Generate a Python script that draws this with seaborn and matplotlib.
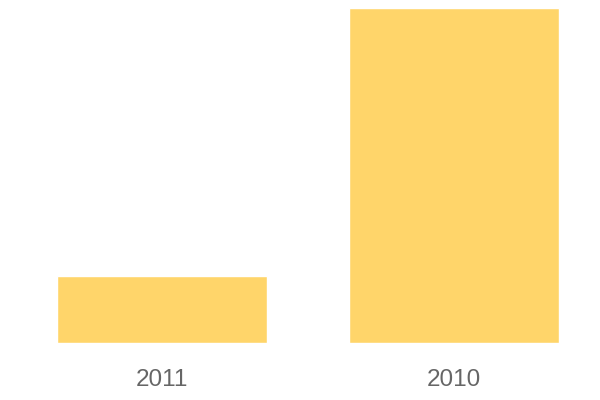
import matplotlib
matplotlib.use("Agg")
import matplotlib.pyplot as plt
import seaborn as sns
import pandas as pd

years = ["2011", "2010"]
values = [20, 100]

sns.set_theme(style="white")
plt.rcParams['font.family'] = ['Liberation Sans', 'DejaVu Sans']

df = pd.DataFrame({"year": years, "value": values})

fig = plt.figure(figsize=(6, 4), dpi=100)
ax = fig.add_axes([0, 0.1425, 1, 0.8375])
sns.barplot(data=df, x="year", y="value", color="#FFD56A", saturation=1,
            width=0.72, ax=ax)

ax.set_xlim(-0.555, 1.5)
ax.set_ylim(0, 100)
ax.set_xlabel("")
ax.set_ylabel("")
ax.set_yticks([])
ax.tick_params(axis="x", length=0, pad=19, labelsize=17.5, labelcolor="#666666")
sns.despine(ax=ax, left=True, bottom=True)

plt.savefig("out.png", dpi=100)
